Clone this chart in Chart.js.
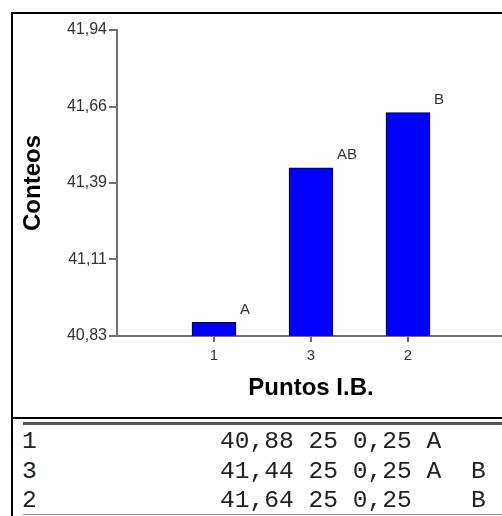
<!DOCTYPE html>
<html><head><meta charset="utf-8">
<script src="https://cdn.jsdelivr.net/npm/chart.js@4/dist/chart.umd.min.js"></script>
<style>
html,body{margin:0;padding:0;background:#fff;width:502px;height:516px;overflow:hidden;position:relative}
#wrap{position:absolute;left:0;top:0;width:506px;height:418px}
.ln{position:absolute}
.row{position:absolute;font-family:"Liberation Mono","Courier New",monospace;font-size:24.6px;line-height:30px;color:#222;white-space:pre}
</style></head><body>
<div id="wrap"><canvas id="c" width="506" height="418"></canvas></div>
<div class="ln" style="left:11px;top:12px;width:500px;height:2px;background:#000"></div>
<div class="ln" style="left:11px;top:12px;width:2px;height:510px;background:#000"></div>
<div class="ln" style="left:11px;top:417px;width:500px;height:2px;background:#000"></div>
<div class="ln" style="left:23px;top:422px;width:490px;height:3px;background:#555"></div>
<div class="ln" style="left:23px;top:514px;width:490px;height:1px;background:#999"></div>
<div id="table"></div>
<script>
const categories = ['1', '3', '2'];
const means = [40.88, 41.44, 41.64];
const nObs = [25, 25, 25];
const stdErr = [0.25, 0.25, 0.25];
const groups = ['A', 'AB', 'B'];
const groupLetters = ['A', 'B'];
const yTickLabels = ['40,83', '41,11', '41,39', '41,66', '41,94'];
const yMin = 40.83;
const yMax = 41.94;

const SANS = '"Liberation Sans", Arial, sans-serif';
const AXIS = '#707070';

// table below the chart
const fmt = (v) => v.toFixed(2).replace('.', ',');
const tbl = document.getElementById('table');
const rowTops = [426.5, 456.5, 486];
categories.forEach((c, i) => {
  const a = document.createElement('div');
  a.className = 'row';
  a.style.left = '22px';
  a.style.top = rowTops[i] + 'px';
  a.textContent = c;
  tbl.appendChild(a);
  const b = document.createElement('div');
  b.className = 'row';
  b.style.left = '220px';
  b.style.top = rowTops[i] + 'px';
  const letters = groupLetters.map(g => groups[i].includes(g) ? g : ' ').join('  ');
  b.textContent = fmt(means[i]) + ' ' + nObs[i] + ' ' + fmt(stdErr[i]) + ' ' + letters;
  tbl.appendChild(b);
});

const labelPlugin = {
  id: 'grpLabels',
  afterDatasetsDraw(chart) {
    const ctx = chart.ctx;
    const meta = chart.getDatasetMeta(0);
    ctx.save();
    ctx.font = '15px ' + SANS;
    ctx.fillStyle = '#333';
    ctx.textAlign = 'left';
    ctx.textBaseline = 'middle';
    meta.data.forEach((bar, i) => {
      ctx.fillText(groups[i], bar.x + bar.width / 2 + 4, bar.y - 12.5);
    });
    ctx.restore();
  }
};

new Chart(document.getElementById('c'), {
  type: 'bar',
  data: {
    datasets: [{
      data: means.map((v, i) => ({ x: i + 1, y: v })),
      backgroundColor: '#0000FF',
      borderColor: '#000000',
      borderWidth: 1,
      barThickness: 44
    }]
  },
  options: {
    responsive: false,
    animation: false,
    layout: { padding: { left: 12, top: 30, right: 1, bottom: 0 } },
    plugins: { legend: { display: false }, tooltip: { enabled: false } },
    scales: {
      x: {
        type: 'linear',
        offset: false,
        min: 0,
        max: categories.length + 1,
        afterBuildTicks: (s) => { s.ticks = categories.map((c, i) => ({ value: i + 1 })); },
        afterFit: (s) => { s.height = 82; },
        ticks: {
          autoSkip: false, maxRotation: 0, padding: 5,
          font: { size: 15, family: SANS }, color: '#333',
          callback: (v) => categories[Math.round(v) - 1]
        },
        grid: { offset: false, drawOnChartArea: false, drawTicks: true, tickLength: 6, color: AXIS, lineWidth: 2 },
        border: { display: true, color: AXIS, width: 2 },
        title: { display: true, text: 'Puntos I.B.', color: '#000',
          font: { size: 24, weight: 'bold', family: SANS }, padding: { top: 0, bottom: 15 } }
      },
      y: {
        type: 'linear',
        min: yMin,
        max: yMax,
        afterBuildTicks: (s) => {
          s.ticks = yTickLabels.map((_, i) => ({ value: yMin + i * (yMax - yMin) / (yTickLabels.length - 1) }));
        },
        afterFit: (s) => { s.width = 105; },
        ticks: {
          padding: 2, font: { size: 16, family: SANS }, color: '#333',
          callback: (v, i) => yTickLabels[i]
        },
        grid: { drawOnChartArea: false, drawTicks: true, tickLength: 8, color: AXIS, lineWidth: 2 },
        border: { display: true, color: AXIS, width: 2 },
        title: { display: true, text: 'Conteos', color: '#000',
          font: { size: 24, weight: 'bold', family: SANS }, padding: { top: 7, bottom: 0 } }
      }
    }
  },
  plugins: [labelPlugin]
});
</script>
</body></html>
